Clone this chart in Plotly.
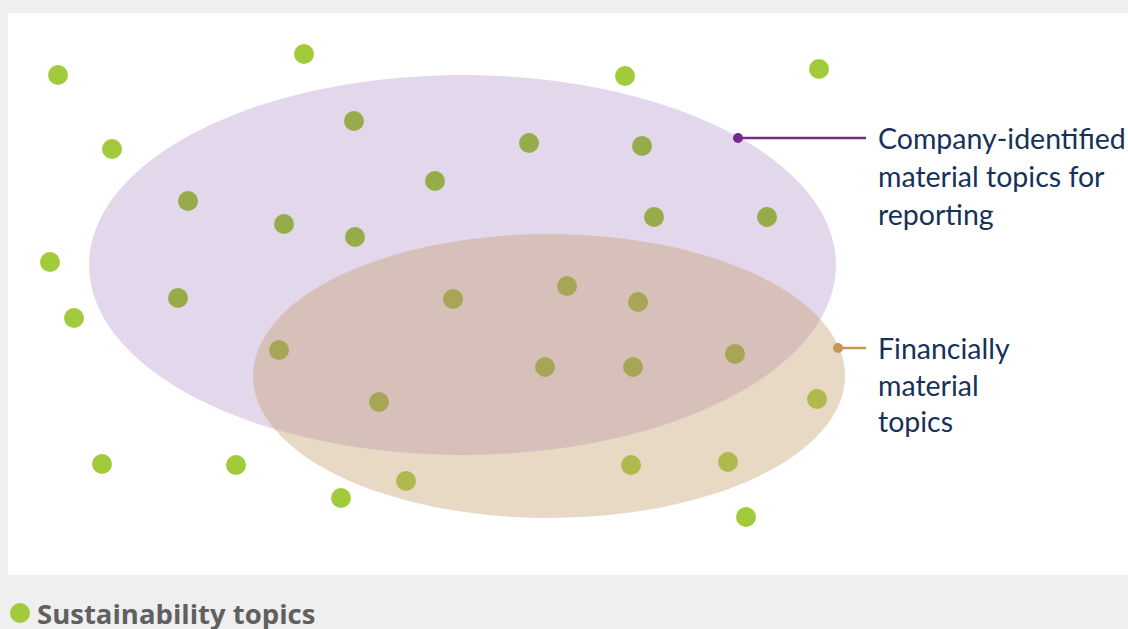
import plotly.graph_objects as go

# Dot positions (in picture-pixel units)
dot_x = [58, 304, 625, 819, 112, 354, 529, 642, 435, 188, 284, 355, 654, 767, 50, 178,
         453, 567, 638, 74, 279, 545, 633, 735, 379, 817, 102, 236, 631, 728, 341, 406, 746]
dot_y = [75, 54, 76, 69, 149, 121, 143, 146, 181, 201, 224, 237, 217, 217, 262, 298,
         299, 286, 302, 318, 350, 367, 367, 354, 402, 399, 464, 465, 465, 462, 498, 481, 517]

# Ellipses: name, x-extent, y-extent
ell_names = ["Company-identified material topics for reporting", "Financially material topics"]
ell_x0 = [89, 253]
ell_x1 = [836, 845]
ell_y0 = [75, 234]
ell_y1 = [455, 518]
ell_fill = ["rgba(102,31,146,0.18)", "rgba(196,157,105,0.39)"]

# Callouts
call_x0 = [738, 838]
call_y = [138, 348]
call_x1 = [866, 866]
call_color = ["#7a2a8c", "#c8924f"]
label_lines = [["Company-identified", "material topics for", "reporting"],
               ["Financially", "material", "topics"]]
label_y = [[138, 176, 214], [348, 385, 421]]
label_x = 876

legend_label = "Sustainability topics"

W, H = 1128, 629
PL, PR, PT, PB = 8, 1128, 13, 575  # white plot area in picture pixels

fig = go.Figure()
fig.add_trace(go.Scatter(x=dot_x, y=dot_y, mode="markers",
                         marker=dict(size=20, color="#a2cb3b", line=dict(width=0)),
                         name=legend_label, showlegend=False, hoverinfo="skip"))

for i in range(2):
    fig.add_shape(type="circle", xref="x", yref="y", layer="above",
                  x0=ell_x0[i], x1=ell_x1[i], y0=ell_y0[i], y1=ell_y1[i],
                  fillcolor=ell_fill[i], line=dict(width=0))

for i in range(2):
    fig.add_trace(go.Scatter(x=[call_x0[i], call_x1[i]], y=[call_y[i], call_y[i]],
                             mode="lines", line=dict(color=call_color[i], width=2.5),
                             showlegend=False, hoverinfo="skip", cliponaxis=False))
    fig.add_trace(go.Scatter(x=[call_x0[i]], y=[call_y[i]], mode="markers",
                             marker=dict(size=10, color=call_color[i]),
                             showlegend=False, hoverinfo="skip", cliponaxis=False))
    for line, ly in zip(label_lines[i], label_y[i]):
        fig.add_annotation(x=label_x, y=ly, xref="x", yref="y", text=line,
                           showarrow=False, xanchor="left", yanchor="middle",
                           font=dict(family="Lato", size=28.5, color="#17325a"))

# Legend (manual)
leg_py = (PB - 613) / (PB - PT)
fig.add_shape(type="circle", xref="paper", yref="paper",
              xsizemode="pixel", ysizemode="pixel",
              xanchor=(20 - PL) / (PR - PL), yanchor=leg_py,
              x0=-10, x1=10, y0=-10, y1=10,
              fillcolor="#a2cb3b", line=dict(width=0))
fig.add_annotation(x=(35 - PL) / (PR - PL), y=leg_py, xref="paper", yref="paper",
                   text="<b>" + legend_label + "</b>", showarrow=False,
                   xanchor="left", yanchor="middle",
                   font=dict(family="Open Sans", size=27.5, color="#606060"))

fig.update_layout(
    width=W, height=H,
    margin=dict(l=PL, r=W - PR, t=PT, b=H - PB, pad=0),
    paper_bgcolor="#efefef", plot_bgcolor="#ffffff",
    xaxis=dict(range=[PL, PR], visible=False, fixedrange=True),
    yaxis=dict(range=[PB, PT], visible=False, fixedrange=True),
    showlegend=False,
)
fig.write_html("out.html",
               config={"displayModeBar": False, "staticPlot": True},
               post_script="document.body.style.margin='0';"
                           "document.body.style.overflow='hidden';")
